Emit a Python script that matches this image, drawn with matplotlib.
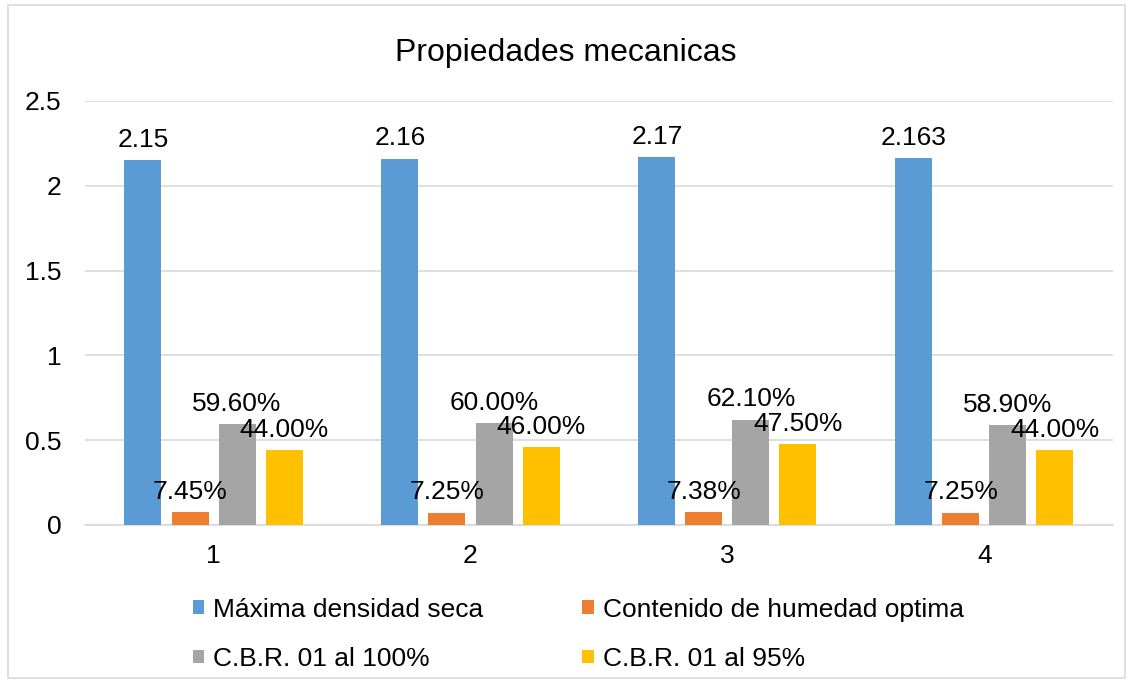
import matplotlib.pyplot as plt
import matplotlib.patches as mpatches
import numpy as np

plt.rcParams['font.family'] = ['Liberation Sans', 'DejaVu Sans']

categories = ["1", "2", "3", "4"]
series_names = ["Máxima densidad seca", "Contenido de humedad optima",
                "C.B.R. 01 al 100%", "C.B.R. 01 al 95%"]
densidad = [2.15, 2.16, 2.17, 2.163]
humedad = [0.0745, 0.0725, 0.0738, 0.0725]
cbr_100 = [0.596, 0.600, 0.621, 0.589]
cbr_95 = [0.44, 0.46, 0.475, 0.44]
densidad_labels = ["2.15", "2.16", "2.17", "2.163"]
colors = ["#5B9BD5", "#ED7D31", "#A5A5A5", "#FFC000"]

series = [densidad, humedad, cbr_100, cbr_95]

fig = plt.figure(figsize=(11.31, 6.8), dpi=100)
ax = fig.add_axes([0.0752, 0.228, 0.9088, 0.6235])

x = np.arange(1, len(categories) + 1)
width = 0.144
step = 0.183
offsets = (np.arange(4) - 1.5) * step

bars = []
for i, (vals, col, name) in enumerate(zip(series, colors, series_names)):
    b = ax.bar(x + offsets[i], vals, width, color=col, label=name, zorder=3)
    bars.append(b)
    if i == 0:
        labels = densidad_labels
    else:
        labels = [f"{v * 100:.2f}%" for v in vals]
    ax.bar_label(b, labels=labels, padding=6, fontsize=19, color="#000000", zorder=4)

ax.set_xlim(0.5, 4.5)
ax.set_ylim(0, 2.5)
ax.set_yticks(np.arange(0, 2.51, 0.5))
ax.set_yticklabels(["0", "0.5", "1", "1.5", "2", "2.5"])
ax.set_xticks(x)
ax.set_xticklabels(categories)
ax.tick_params(axis="both", length=0, labelsize=19)
ax.tick_params(axis="x", pad=14)
ax.tick_params(axis="y", pad=17)
ax.grid(axis="y", color="#D9D9D9", linewidth=1.2, zorder=0)
for s in ["top", "right", "left"]:
    ax.spines[s].set_visible(False)
ax.spines["bottom"].set_color("#D9D9D9")
ax.spines["bottom"].set_linewidth(1.2)

fig.text(0.5, 0.922, "Propiedades mecanicas", ha="center", va="center", fontsize=23)

order = [0, 2, 1, 3]
handles = [bars[i] for i in order]
names = [series_names[i] for i in order]
fig.legend(handles, names, ncol=2, loc="upper left", bbox_to_anchor=(0.1706, 0.121),
           frameon=False, fontsize=19, handlelength=0.42, handleheight=0.42,
           handletextpad=0.35, columnspacing=3.75, labelspacing=0.95,
           borderaxespad=0, borderpad=0)

fig.patches.append(mpatches.Rectangle((0.007, 0.003), 0.988, 0.99, transform=fig.transFigure,
                                      fill=False, edgecolor="#D9D9D9", linewidth=1.2))

fig.savefig("out.png", dpi=100)
